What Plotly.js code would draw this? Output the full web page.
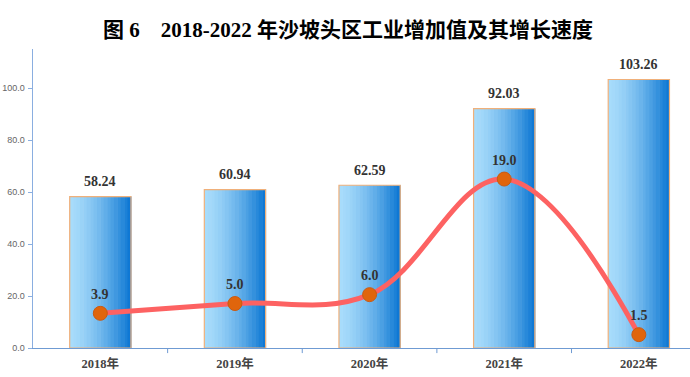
<!DOCTYPE html>
<html><head><meta charset="utf-8">
<script src="https://cdn.plot.ly/plotly-3.0.1.min.js"></script>
<style>html,body{margin:0;padding:0;background:#fff}#c{width:690px;height:377px}</style>
</head><body><div id="c"></div>
<script>
const categories = ['2018年','2019年','2020年','2021年','2022年'];
const addedValue = [58.24, 60.94, 62.59, 92.03, 103.26];
const growthRate = [3.9, 5.0, 6.0, 19.0, 1.5];
const valueLabels = ['58.24','60.94','62.59','92.03','103.26'];
const rateLabels = ['3.9','5.0','6.0','19.0','1.5'];
const yTickVals = [0,20,40,60,80,100];
const yTickText = ['0.0','20.0','40.0','60.0','80.0','100.0'];

const serif = 'Liberation Serif, Times New Roman, Noto Sans CJK SC, serif';
const idx = categories.map((_,i)=>i);
const BW = 0.455, N = 18;
const c0 = [168,220,251], c1 = [8,116,210];
const traces = [];
for (let k=0;k<N;k++){
  const t = Math.pow((k+0.5)/N,1.5);
  const col = c0.map((v,j)=>Math.round(v+(c1[j]-v)*t));
  traces.push({type:'bar',x:idx,y:addedValue,width:idx.map(()=>BW/N*1.15),
    offset:idx.map(()=>-BW/2+k*BW/N),
    marker:{color:`rgb(${col.join(',')})`,line:{width:0}},hoverinfo:'skip',showlegend:false});
}
traces.push({type:'bar',x:idx,y:addedValue,width:idx.map(()=>BW),offset:idx.map(()=>-BW/2),
  marker:{color:'rgba(0,0,0,0)',line:{color:'#f0b07a',width:1.2}},showlegend:false});
traces.push({type:'scatter',mode:'lines+markers',x:idx,y:growthRate,yaxis:'y2',
  line:{color:'#fd6262',width:5,shape:'spline',smoothing:1.1},
  marker:{size:14,color:'#e0650c',line:{color:'#c95a12',width:1}},showlegend:false});

const annotations = [];
idx.forEach(i=>{
  annotations.push({x:i,y:addedValue[i],xref:'x',yref:'y',text:valueLabels[i],showarrow:false,
    yshift:15,font:{family:serif,size:14,color:'#333',weight:'bold'}});
  annotations.push({x:i,y:growthRate[i],xref:'x',yref:'y2',text:rateLabels[i],showarrow:false,
    yshift:19,font:{family:serif,size:14,color:'#333',weight:'bold'}});
});
annotations.push({xref:'paper',yref:'paper',x:0.48,y:1,yshift:33,xanchor:'center',showarrow:false,
  text:'<b>图 6　2018-2022 年沙坡头区工业增加值及其增长速度</b>',
  font:{family:serif,size:21,color:'#000'}});

const layout = {
  width:690,height:377,margin:{l:33,r:0,t:49,b:29},
  paper_bgcolor:'#fff',plot_bgcolor:'#fff',barmode:'overlay',
  xaxis:{range:[-0.5,4.38],tickvals:idx,ticktext:categories,showgrid:false,zeroline:false,
    showline:true,linecolor:'#6f9bd3',linewidth:1,ticks:'',ticklabelstandoff:4,
    tickfont:{family:serif,size:12.5,color:'#444',weight:'bold'},fixedrange:true},
  yaxis:{range:[0,115],tickvals:yTickVals,ticktext:yTickText,showgrid:false,zeroline:false,
    showline:true,linecolor:'#8aaee0',linewidth:1.5,ticks:'outside',ticklen:4,tickcolor:'#8aaee0',
    ticklabelstandoff:1,
    tickfont:{family:'Liberation Sans, Arial, sans-serif',size:9,color:'#666'}},
  yaxis2:{range:[0,115/3.42],overlaying:'y',visible:false},
  shapes:[1,2,3,4].map(b=>({type:'line',xref:'x',yref:'paper',x0:b-0.5,x1:b-0.5,y0:0,y1:-0.017,line:{color:'#6f9bd3',width:1}})),
  annotations:annotations
};
Plotly.newPlot('c',traces,layout,{staticPlot:true});
</script></body></html>
